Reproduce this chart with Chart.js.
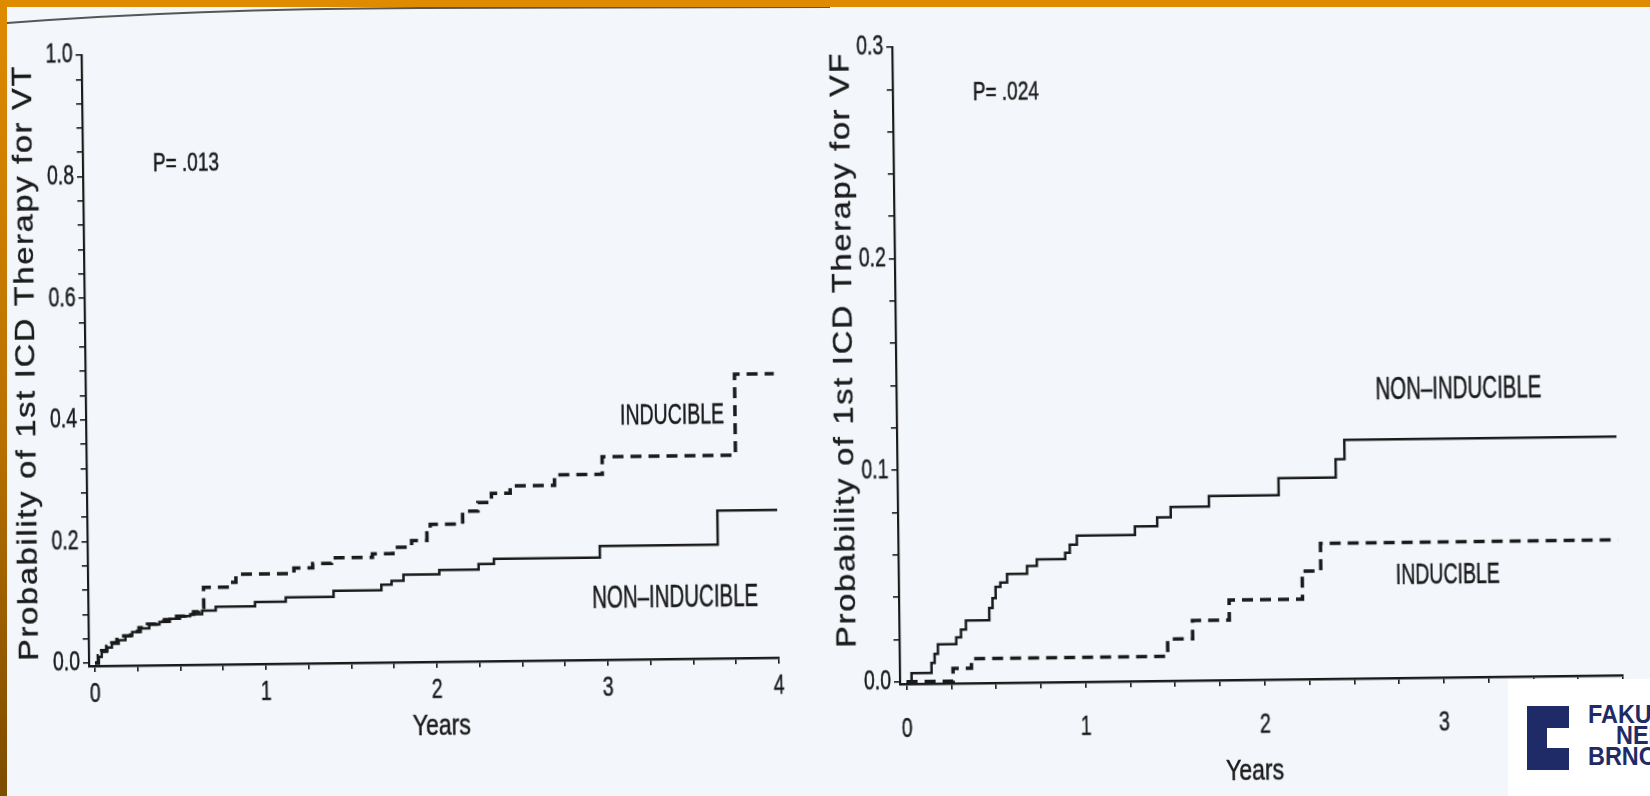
<!DOCTYPE html>
<html>
<head>
<meta charset="utf-8">
<script src="https://cdn.jsdelivr.net/npm/chart.js@4.4.0/dist/chart.umd.min.js"></script>
<style>
  html, body { margin: 0; padding: 0; }
  body {
    width: 1650px; height: 796px; position: relative; overflow: hidden;
    background: #f3f6fb; font-family: 'Liberation Sans', Arial, sans-serif;
  }
  canvas { position: absolute; top: 0; }
  #vtChart { left: 0; transform-origin: 95px 663px; transform: rotate(-0.7deg); }
  #vfChart { left: 825px; transform-origin: 82px 682px; transform: rotate(-0.7deg); }
  .edge-top { position: absolute; left: 0; top: 0; width: 1650px; height: 7px; background: #df8b00; }
  .edge-left { position: absolute; left: 0; top: 0; width: 7px; height: 796px;
    background: linear-gradient(#df8b00, #b87000 55%, #7c4c00); }
  .page-edge { position: absolute; left: 0; top: 0; }
  .logo { position: absolute; left: 1508px; top: 679px; width: 142px; height: 117px; background: #fff; overflow: hidden; }
  .logo .mark { position: absolute; left: 19px; top: 27px; width: 42px; height: 64px; background: #1f2b66; }
  .logo .mark::after { content: ''; position: absolute; left: 20px; top: 22px; width: 22px; height: 20px; background: #fff; }
  .logo .lt { position: absolute; font: bold 26px/26px 'Liberation Sans', Arial, sans-serif; color: #1f2b66;
    transform: scaleX(0.9); transform-origin: left top; white-space: nowrap; }
  .logo .r1 { left: 80px; top: 22px; }
  .logo .r2 { left: 108px; top: 43px; }
  .logo .r3 { left: 80px; top: 64px; }
</style>
</head>
<body>
<canvas id="vtChart" width="825" height="796"></canvas>
<canvas id="vfChart" width="825" height="796"></canvas>
<svg class="page-edge" width="900" height="40">
  <path d="M7 23 Q 190 9 420 8 T 830 7" stroke="#2e2e2e" stroke-width="2" fill="none" opacity="0.8"/>
</svg>
<div class="edge-top"></div>
<div class="edge-left"></div>
<div class="logo">
  <div class="mark"></div>
  <div class="lt r1">FAKULTNÍ</div>
  <div class="lt r2">NEMOCNICE</div>
  <div class="lt r3">BRNO</div>
</div>
<script>
// cumulative probability of first ICD therapy, step points (years, probability)
const vtNonIndYears = [0, 0.02, 0.04, 0.07, 0.1, 0.14, 0.18, 0.22, 0.27, 0.32, 0.38, 0.44, 0.5, 0.56, 0.63, 0.71,
  0.94, 1.12, 1.4, 1.68, 1.74, 1.81, 2.02, 2.25, 2.34, 2.96, 3.65, 4.0];
const vtNonIndProb = [0, 0.01, 0.018, 0.025, 0.031, 0.037, 0.044, 0.05, 0.056, 0.062, 0.066, 0.071, 0.075, 0.078, 0.084, 0.09,
  0.097, 0.104, 0.114, 0.123, 0.129, 0.139, 0.146, 0.155, 0.163, 0.182, 0.238, 0.238];

const vtIndYears = [0, 0.02, 0.04, 0.07, 0.1, 0.13, 0.17, 0.21, 0.26, 0.31, 0.36, 0.41, 0.47, 0.53, 0.58, 0.61, 0.64,
  0.79, 0.83, 1.17, 1.28, 1.39, 1.63, 1.75, 1.86, 1.95, 1.97, 2.16, 2.25, 2.33, 2.44, 2.7, 2.98, 3.76, 3.99];
const vtIndProb = [0, 0.012, 0.02, 0.027, 0.033, 0.038, 0.044, 0.051, 0.057, 0.063, 0.067, 0.07, 0.075, 0.078, 0.082, 0.089, 0.122,
  0.13, 0.143, 0.152, 0.159, 0.168, 0.174, 0.184, 0.195, 0.207, 0.221, 0.242, 0.256, 0.271, 0.283, 0.3, 0.329, 0.462, 0.462];

const vfNonIndYears = [0, 0.028, 0.14, 0.158, 0.177, 0.28, 0.307, 0.335, 0.466, 0.485, 0.503, 0.53, 0.568, 0.68, 0.735,
  0.894, 0.92, 0.96, 1.285, 1.41, 1.486, 1.7, 2.09, 2.41, 2.46, 3.98];
const vfNonIndProb = [0, 0.004, 0.0087, 0.013, 0.0175, 0.0206, 0.0243, 0.0286, 0.0344, 0.039, 0.0443, 0.0463, 0.0503, 0.054, 0.057,
  0.06, 0.0638, 0.068, 0.0721, 0.0762, 0.081, 0.086, 0.094, 0.1027, 0.1118, 0.1118];

const vfIndYears = [0, 0.26, 0.363, 1.46, 1.6, 1.806, 2.216, 2.32, 3.98];
const vfIndProb = [0, 0.006, 0.0105, 0.0186, 0.0273, 0.0367, 0.05, 0.063, 0.063];

const yearLabels = ['0', '1', '2', '3', '4'];
const vtProbLabels = ['0.0', '0.2', '0.4', '0.6', '0.8', '1.0'];
const vfProbLabels = ['0.0', '0.1', '0.2', '0.3'];

const INK = '#1a1a1a';
const FONT = '"Liberation Sans", Arial, sans-serif';

function km(years, prob) {
  return years.map((t, i) => ({ x: t, y: prob[i] }));
}

function steps(from, to, step) {
  const out = [];
  const n = Math.round((to - from) / step);
  for (let i = 0; i <= n; i++) out.push({ value: +(from + i * step).toFixed(4) });
  return out;
}

// narrow, slightly heavy text like the typeset figure
function squeezeText(ctx, text, x, y, size, sx, align) {
  ctx.save();
  ctx.font = size + 'px ' + FONT;
  ctx.textAlign = align || 'center';
  ctx.textBaseline = 'middle';
  ctx.fillStyle = INK;
  ctx.strokeStyle = INK;
  ctx.lineWidth = 0.5;
  ctx.translate(x, y);
  ctx.scale(sx, 1);
  ctx.fillText(text, 0, 0);
  ctx.strokeText(text, 0, 0);
  ctx.restore();
}

const scanLabels = {
  id: 'scanLabels',
  afterDraw(chart, args, opts) {
    const ctx = chart.ctx;
    const xs = chart.scales.x;
    const ys = chart.scales.y;
    yearLabels.forEach(l => {
      squeezeText(ctx, l, xs.getPixelForValue(+l), xs.top + opts.xLabelGap, 27, 0.72);
    });
    opts.yLabels.forEach(l => {
      squeezeText(ctx, l, chart.chartArea.left - 9, ys.getPixelForValue(+l), 27, 0.72, 'right');
    });
    opts.notes.forEach(n => squeezeText(ctx, n.text, n.x, n.y, n.size, n.sx));

    // axis titles
    squeezeText(ctx, 'Years', opts.xTitle.x, opts.xTitle.y, 30, 0.77);
    ctx.save();
    ctx.translate(opts.yTitle.x, opts.yTitle.y);
    ctx.rotate(-Math.PI / 2);
    ctx.scale(1.2, 1);
    ctx.font = '27px ' + FONT;
    ctx.letterSpacing = '1.5px';
    ctx.textAlign = 'center';
    ctx.textBaseline = 'middle';
    ctx.fillStyle = INK;
    ctx.strokeStyle = INK;
    ctx.lineWidth = 0.4;
    ctx.fillText(opts.yTitle.text, 0, 0);
    ctx.strokeText(opts.yTitle.text, 0, 0);
    ctx.restore();
  }
};

function curves(nonInd, ind) {
  return [
    { data: nonInd, stepped: 'before', borderColor: INK, borderWidth: 2.5, pointRadius: 0, clip: 8 },
    { data: ind, stepped: 'before', borderColor: INK, borderWidth: 3.5, borderDash: [11, 7], pointRadius: 0, clip: 8 }
  ];
}

function axes(xMin, yMin, yMax, yStep) {
  const marks = { drawOnChartArea: false, drawTicks: true, tickLength: 6, color: INK, lineWidth: 1.6 };
  return {
    x: {
      type: 'linear', min: xMin, max: 4,
      ticks: { display: false }, grid: marks, border: { display: true, color: INK, width: 2.4 },
      afterBuildTicks: s => { s.ticks = steps(0, 4, 0.25); },
      afterFit: s => { s.height = 10; }
    },
    y: {
      type: 'linear', min: yMin, max: yMax,
      ticks: { display: false }, grid: marks, border: { display: true, color: INK, width: 2.2 },
      afterBuildTicks: s => { s.ticks = steps(0, yMax, yStep); },
      afterFit: s => { s.width = 10; }
    }
  };
}

const common = {
  responsive: false,
  animation: false,
  plugins: { legend: { display: false }, tooltip: { enabled: false } }
};

new Chart(document.getElementById('vtChart'), {
  type: 'line',
  data: { datasets: curves(km(vtNonIndYears, vtNonIndProb), km(vtIndYears, vtIndProb)) },
  options: {
    ...common,
    layout: { padding: { left: 79, top: 55, right: 46, bottom: 120 } },
    scales: axes(-0.035, -0.005, 1.0, 0.04),
    plugins: {
      ...common.plugins,
      scanLabels: {
        xLabelGap: 29,
        yLabels: vtProbLabels,
        notes: [
          { text: 'P= .013', x: 192, y: 165, size: 25, sx: 0.76 },
          { text: 'INDUCIBLE', x: 675, y: 423, size: 30, sx: 0.65 },
          { text: 'NON–INDUCIBLE', x: 676, y: 605, size: 31, sx: 0.66 }
        ],
        xTitle: { x: 441, y: 731 },
        yTitle: { x: 31, y: 362, text: 'Probability of 1st ICD Therapy for VT' }
      }
    }
  },
  plugins: [scanLabels]
});

new Chart(document.getElementById('vfChart'), {
  type: 'line',
  data: { datasets: curves(km(vfNonIndYears, vfNonIndProb), km(vfIndYears, vfIndProb)) },
  options: {
    ...common,
    layout: { padding: { left: 65, top: 47, right: 27, bottom: 102 } },
    scales: axes(-0.037, -0.0011, 0.3, 0.02),
    plugins: {
      ...common.plugins,
      scanLabels: {
        xLabelGap: 46,
        yLabels: vfProbLabels,
        notes: [
          { text: 'P= .024', x: 188, y: 94, size: 25, sx: 0.76 },
          { text: 'NON–INDUCIBLE', x: 637, y: 396, size: 31, sx: 0.66 },
          { text: 'INDUCIBLE', x: 624, y: 582, size: 30, sx: 0.65 }
        ],
        xTitle: { x: 429, y: 776 },
        yTitle: { x: 24, y: 349, text: 'Probability of 1st ICD Therapy for VF' }
      }
    }
  },
  plugins: [scanLabels]
});
</script>
</body>
</html>
